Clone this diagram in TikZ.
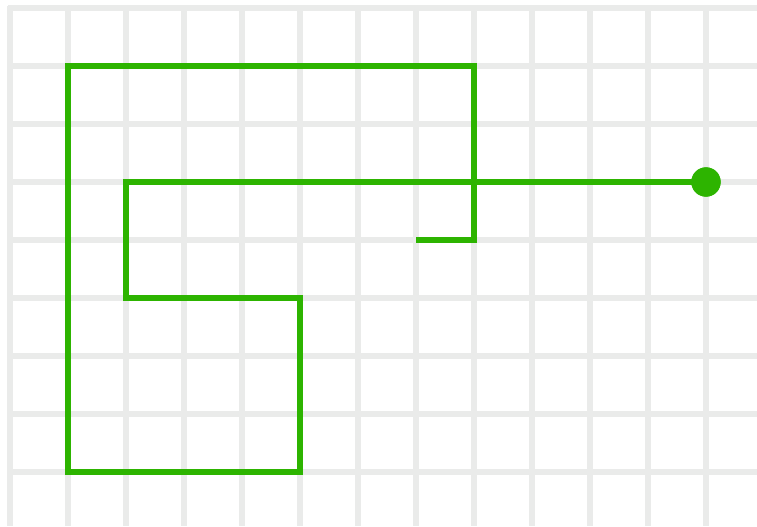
\documentclass[tikz,border=0pt]{standalone}
\usepackage{tikz}
\definecolor{gridgray}{HTML}{EAEBEA}
\definecolor{pathgreen}{HTML}{2DB400}
\tikzset{
  gridline/.style={draw=gridgray, line width=4pt},
  walk/.style={draw=pathgreen, line width=4pt, line join=miter},
  enddot/.style={circle, fill=pathgreen, minimum size=22pt, inner sep=0pt},
}
\begin{document}
\begin{tikzpicture}[x=0.75pt,y=-0.75pt]
\useasboundingbox (0,0) rectangle (757,526);
\fill[white] (0,0) rectangle (757,526);
\foreach \x in {10,68,...,706} {\draw[gridline] (\x,5.5) -- (\x,526);}
\foreach \y in {8,66,...,472} {\draw[gridline] (8,\y) -- (757,\y);}
\coordinate (e) at (416,240);
\node[enddot] (dot) at (706,182) {};
\draw[walk] (dot.center) -- (126,182) -- (126,298) -- (300,298) -- (300,472) -- (68,472) -- (68,66) -- (474,66) -- (474,240) -- (e);
\node[enddot] at (dot.center) {};
\end{tikzpicture}
\end{document}
